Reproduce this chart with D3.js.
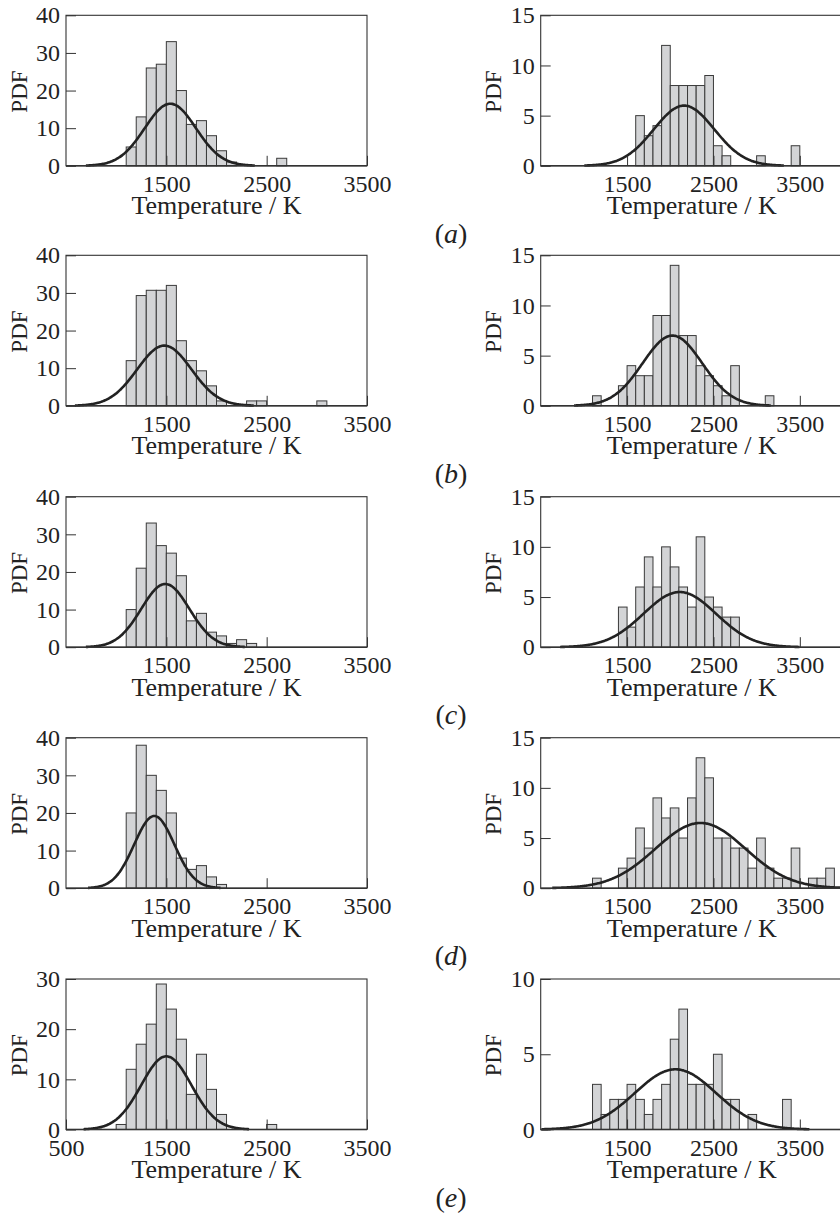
<!DOCTYPE html>
<html>
<head>
<meta charset="utf-8">
<style>
    body { margin: 0; background: #fff; }
    svg { display: block; font-family: 'Liberation Serif', 'Times New Roman', serif; }
    .tick text { font-family: 'Liberation Serif', 'Times New Roman', serif; font-size: 24px; fill: #222; }
    .tick line { stroke: #333; stroke-width: 1; }
    .domain { display: none; }
    .bar { fill: #d3d4d6; stroke: #3a3a3a; stroke-width: 1; }
    .fit { fill: none; stroke: #222; stroke-width: 2.6; }
    .frame { fill: none; stroke: #333; stroke-width: 1.1; }
    .base { stroke: #333; stroke-width: 1.6; }
    .ylab { font-size: 23px; fill: #222; }
    .xlab { font-size: 26px; fill: #222; }
    .panel { font-size: 28px; fill: #222; }
</style>
</head>
<body>
<svg width="840" height="1213"></svg>

<script src="https://d3js.org/d3.v7.min.js"></script>
<script>
    // histogram heights (PDF), 100 K bins, first bin start given separately
    let aLeftStart = 1100
    let aLeft = [5, 13, 26, 27, 33, 20, 11, 12, 8, 4, 1, 0, 0, 0, 0, 2]
    let aRightStart = 1600
    let aRight = [5, 3, 4, 12, 8, 8, 8, 8, 9, 2, 1, 0, 0, 0, 1, 0, 0, 0, 2]

    let bLeftStart = 1100
    let bLeft = [12, 29.3, 30.7, 30.7, 32, 17.3, 12, 9.3, 5.3, 1.3, 0, 0, 1.3, 1.3, 0, 0, 0, 0, 0, 1.3]
    let bRightStart = 1100
    let bRight = [1, 0, 0, 2, 4, 3, 3, 9, 9, 14, 7, 7, 4, 3, 2, 1, 4, 0, 0, 0, 1]

    let cLeftStart = 1100
    let cLeft = [10, 21, 33, 27, 25, 19, 7, 9, 4, 3, 1, 2, 1]
    let cRightStart = 1400
    let cRight = [4, 2, 6, 9, 6, 10, 8, 6, 4, 11, 5, 4, 3, 3]

    let dLeftStart = 1100
    let dLeft = [20, 38, 30, 26, 20, 8, 5, 6, 3, 1]
    let dRightStart = 1100
    let dRight = [1, 0, 0, 2, 3, 6, 4, 9, 7, 8, 5, 9, 13, 11, 5, 5, 4, 4, 2, 5, 2, 1, 1, 4, 0, 1, 1, 2]

    let eLeftStart = 1000
    let eLeft = [1, 12, 17, 21, 29, 24, 18, 7, 15, 8, 3, 0, 0, 0, 0, 1]
    let eRightStart = 1100
    let eRight = [3, 1, 2, 2, 3, 2, 1, 2, 3, 6, 8, 3, 3, 3, 5, 2, 2, 0, 1, 0, 0, 0, 2]

    // fitted normal curves: [mean, sigma, peak]
    let aLeftFit = [1540, 255, 16.5]
    let aRightFit = [2160, 350, 6.0]
    let bLeftFit = [1480, 270, 16.0]
    let bRightFit = [2025, 345, 7.0]
    let cLeftFit = [1490, 240, 16.8]
    let cRightFit = [2110, 420, 5.5]
    let dLeftFit = [1380, 200, 19.2]
    let dRightFit = [2350, 520, 6.5]
    let eLeftFit = [1500, 250, 14.6]
    let eRightFit = [2060, 470, 4.0]

    // axes
    let leftXDomain = [500, 3500]
    let rightXDomain = [500, 4000]
    let xTicks = [1500, 2500, 3500]
    let xTicksLast = [500, 1500, 2500, 3500]
    let leftYTicks = [0, 10, 20, 30, 40]
    let leftYTicksLast = [0, 10, 20, 30]
    let rightYTicks = [0, 5, 10, 15]
    let rightYTicksLast = [0, 5, 10]
    let panelNames = ["a", "b", "c", "d", "e"]

    let binWidth = 100
    let rowTops = [15.3, 255.3, 496.7, 737.7, 979]
    let plotH = 150.5
    let cols = { left: [66, 367], right: [540.7, 843] }

    let svg = d3.select("svg")

    let panels = [
        { row: 0, side: "left", start: aLeftStart, vals: aLeft, fit: aLeftFit },
        { row: 0, side: "right", start: aRightStart, vals: aRight, fit: aRightFit },
        { row: 1, side: "left", start: bLeftStart, vals: bLeft, fit: bLeftFit },
        { row: 1, side: "right", start: bRightStart, vals: bRight, fit: bRightFit },
        { row: 2, side: "left", start: cLeftStart, vals: cLeft, fit: cLeftFit },
        { row: 2, side: "right", start: cRightStart, vals: cRight, fit: cRightFit },
        { row: 3, side: "left", start: dLeftStart, vals: dLeft, fit: dLeftFit },
        { row: 3, side: "right", start: dRightStart, vals: dRight, fit: dRightFit },
        { row: 4, side: "left", start: eLeftStart, vals: eLeft, fit: eLeftFit },
        { row: 4, side: "right", start: eRightStart, vals: eRight, fit: eRightFit }
    ]

    panels.forEach(p => {
        let last = p.row == 4
        let top = rowTops[p.row]
        let bottom = top + plotH
        let [x0, x1] = cols[p.side]

        let yTicks = p.side == "left"
            ? (last ? leftYTicksLast : leftYTicks)
            : (last ? rightYTicksLast : rightYTicks)

        let x = d3.scaleLinear()
            .domain(p.side == "left" ? leftXDomain : rightXDomain)
            .range([x0, x1])

        let y = d3.scaleLinear()
            .domain([0, d3.max(yTicks)])
            .range([bottom, top])

        let g = svg.append("g")

        let bins = p.vals
            .map((v, i) => ({ t: p.start + i * binWidth, v: v }))
            .filter(d => d.v > 0)

        g.selectAll("rect.bar")
            .data(bins)
            .join("rect")
            .attr("class", "bar")
            .attr("x", d => x(d.t))
            .attr("width", d => x(d.t + binWidth) - x(d.t))
            .attr("y", d => y(d.v))
            .attr("height", d => bottom - y(d.v))

        // normal fit, drawn over mean +/- 3.3 sigma
        let [mu, sd, peak] = p.fit
        let lo = Math.max(mu - 3.3 * sd, x.domain()[0])
        let hi = Math.min(mu + 3.3 * sd, x.domain()[1])
        let ts = d3.range(lo, hi, 10).concat([hi])
        let line = d3.line()
            .x(t => x(t))
            .y(t => y(peak * Math.exp(-0.5 * ((t - mu) / sd) ** 2)))
            .curve(d3.curveBasis)

        g.append("path")
            .attr("class", "fit")
            .attr("d", line(ts))

        g.append("g")
            .attr("transform", `translate(0,${bottom})`)
            .call(d3.axisBottom(x)
                .tickValues(p.side == "left" && last ? xTicksLast : xTicks)
                .tickFormat(d3.format("d"))
                .tickSizeInner(-10)
                .tickSizeOuter(0)
                .tickPadding(9))

        g.append("g")
            .attr("transform", `translate(${x0},0)`)
            .call(d3.axisLeft(y)
                .tickValues(yTicks)
                .tickSizeInner(-10)
                .tickSizeOuter(0)
                .tickPadding(6))

        g.append("rect")
            .attr("class", "frame")
            .attr("x", x0)
            .attr("y", top)
            .attr("width", x1 - x0)
            .attr("height", plotH)

        g.append("line")
            .attr("class", "base")
            .attr("x1", x0).attr("x2", x1)
            .attr("y1", bottom).attr("y2", bottom)

        g.append("text")
            .attr("class", "ylab")
            .attr("text-anchor", "middle")
            .attr("transform", `translate(${x0 - 39.5},${(top + bottom) / 2 + 1}) rotate(-90)`)
            .text("PDF")

        g.append("text")
            .attr("class", "xlab")
            .attr("text-anchor", "middle")
            .attr("x", (x0 + x1) / 2)
            .attr("y", bottom + 48.6)
            .text("Temperature / K")
    })

    // panel letters
    panelNames.forEach((n, i) => {
        let t = svg.append("text")
            .attr("class", "panel")
            .attr("text-anchor", "middle")
            .attr("x", 451)
            .attr("y", rowTops[i] + plotH + 77)
        t.append("tspan").text("(")
        t.append("tspan").style("font-style", "italic").text(n)
        t.append("tspan").text(")")
    })
</script>
</body>
</html>
